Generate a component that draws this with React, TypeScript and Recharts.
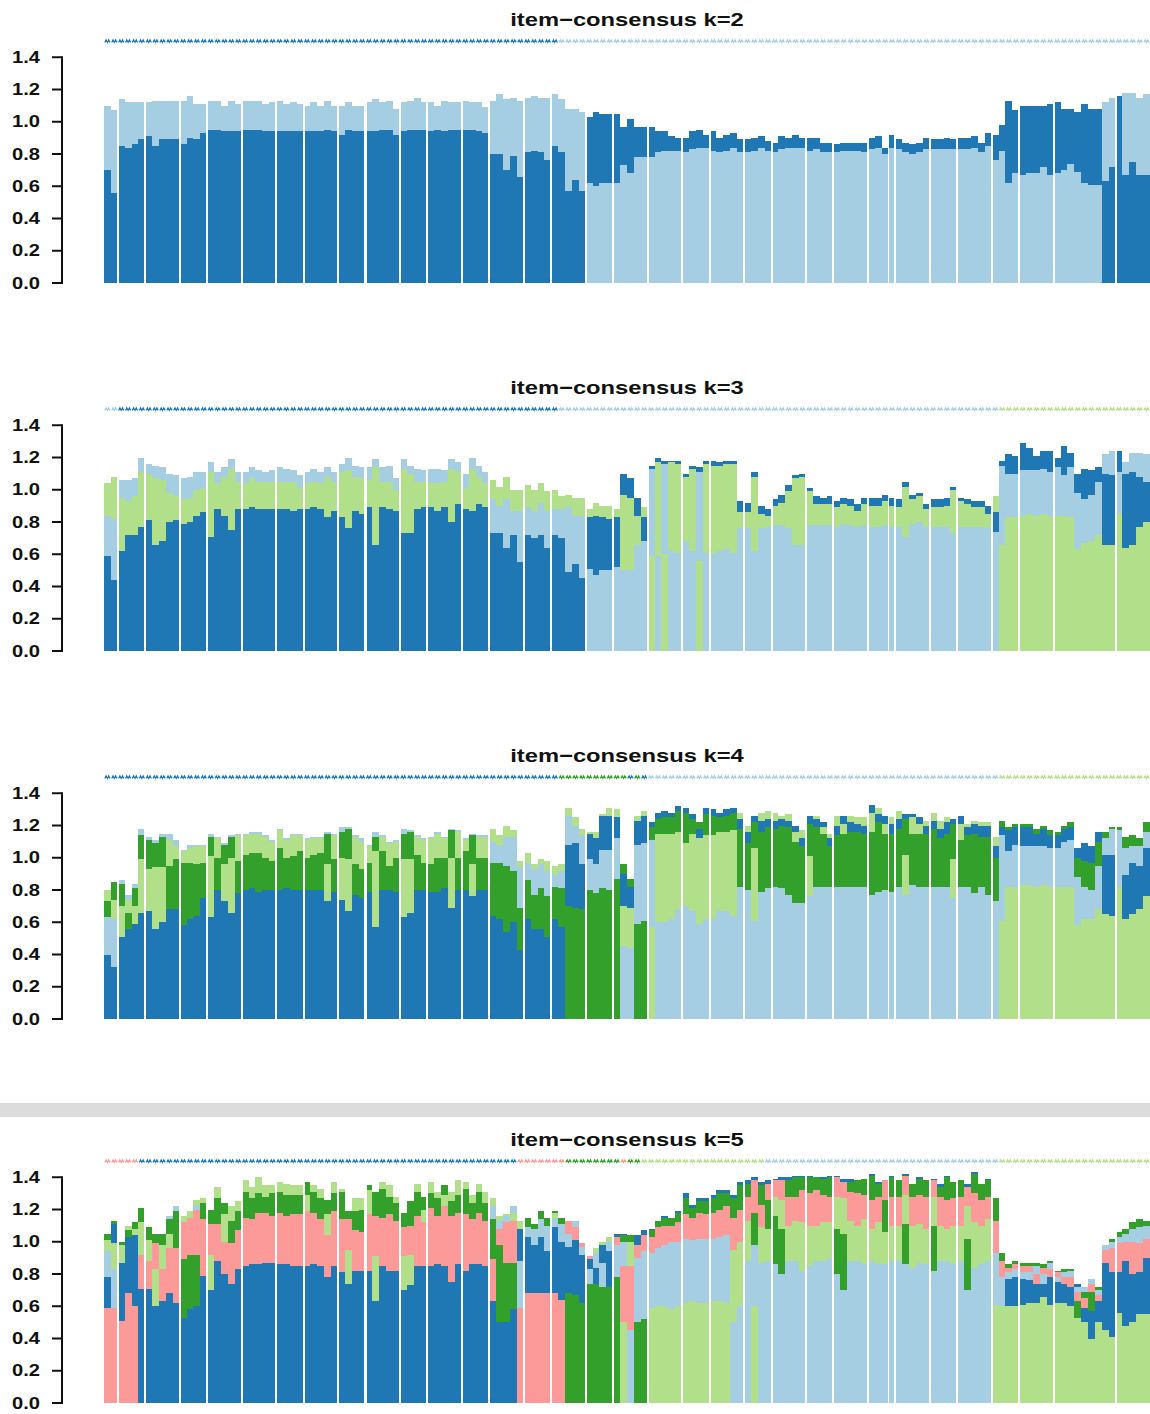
import { Bar, Cell, ComposedChart, Scatter, XAxis, YAxis } from "recharts";

// RColorBrewer "Paired": cluster 1..5 in the order ConsensusClusterPlus assigns them
const PAIRED = ["#1F78B4", "#A6CEE3", "#B2DF8A", "#33A02C", "#FB9A99"];

// runs of samples between the white separators
const BLOCKS = [2, 4, 5, 4, 5, 5, 4, 5, 4, 5, 4, 5, 4, 5, 4, 5, 4, 5, 5, 4, 5, 4, 5, 4, 5, 4, 5, 4, 5, 4, 5, 9, 5];

// ── k=2 item consensus per cluster ─────────────────────────────────────────
const K2_C1 = [
  .70, .56, .85, .84, .86, .89, .91, .85, .89, .89,
  .89, .86, .90, .89, .93, .95, .95, .94, .94, .94,
  .95, .95, .95, .94, .94, .94, .94, .94, .94, .94,
  .94, .94, .95, .94, .92, .95, .94, .94, .94, .94,
  .95, .95, .92, .94, .95, .95, .95, .94, .95, .94,
  .95, .95, .95, .95, .94, .93, .80, .80, .70, .79,
  .66, .81, .82, .81, .76, .85, .81, .57, .64, .57,
  .41, .46, .43, .43, .43, .24, .34, .19, .19, .19,
  .13, .12, .09, .08, .09, .11, .11, .08, .12, .09,
  .10, .09, .08, .08, .08, .07, .06, .06, .08, .06,
  .08, .06, .08, .07, .06, .06, .05, .05, .05, .05,
  .06, .07, .07, .04, .08, .06, .06, .06, .06, .07,
  .06, .06, .07, .06, .07, .07, .07, .06, .08, .16,
  .16, .51, .39, .43, .42, .42, .38, .44, .44, .38,
  .34, .37, .49, .47, .47, .63, .72, 1.16, .67, .75,
  .67, .67,
];
const K2_C2 = [
  .40, .51, .29, .28, .26, .23, .21, .28, .24, .24,
  .24, .27, .26, .22, .18, .18, .18, .16, .19, .17,
  .18, .18, .18, .17, .18, .19, .17, .18, .17, .16,
  .18, .16, .18, .16, .18, .17, .16, .16, .18, .20,
  .17, .18, .16, .18, .18, .20, .17, .18, .15, .19,
  .17, .17, .18, .17, .18, .16, .33, .37, .44, .36,
  .47, .34, .34, .34, .39, .32, .33, .51, .44, .49,
  .62, .60, .62, .62, .62, .73, .68, .78, .78, .78,
  .81, .82, .82, .82, .81, .83, .84, .84, .82, .81,
  .82, .84, .81, .81, .82, .84, .82, .81, .83, .84,
  .84, .84, .82, .83, .81, .81, .81, .82, .82, .82,
  .81, .83, .84, .80, .84, .83, .81, .80, .81, .83,
  .83, .83, .83, .83, .83, .83, .84, .81, .85, .76,
  .82, .62, .68, .67, .68, .68, .72, .67, .68, .70,
  .74, .69, .62, .61, .61, .49, .43, 0, .51, .43,
  .48, .50,
];

// ── k=3 ────────────────────────────────────────────────────────────────────
const K3_C1 = [
  .59, .44, .62, .72, .72, .77, .81, .66, .68, .80,
  .81, .79, .80, .84, .86, .71, .88, .84, .75, .88,
  .88, .89, .88, .88, .88, .88, .88, .87, .88, .88,
  .89, .88, .83, .87, .83, .76, .87, .85, .89, .66,
  .89, .88, .87, .73, .73, .88, .89, .89, .87, .89,
  .80, .91, .88, .87, .91, .89, .73, .73, .64, .72,
  .55, .72, .70, .72, .64, .72, .70, .49, .54, .45,
  .32, .37, .33, .32, .31, .13, .12, .11, .15, .02,
  .03, .02, .01, .02, .02, .02, .03, .02, .03, .02,
  .02, .02, .07, .06, .03, .05, .04, .04, .05, .04,
  .02, .02, .02, .05, .04, .05, .04, .04, .04, .04,
  .04, .05, .05, .04, .05, .05, .03, .03, .02, .03,
  .05, .05, .05, .02, .02, .03, .04, .04, .05, .12,
  .03, .12, .11, .17, .14, .09, .11, .13, .06, .18,
  .09, .12, .19, .15, .09, .44, .43, .13, .46, .45,
  .31, .25,
];
const K3_C2 = [
  .25, .38, .11, .13, .11, .09, .06, .08, .08, .12,
  .13, .13, .13, .11, .10, .06, .07, .06, .06, .06,
  .07, .07, .07, .06, .07, .09, .08, .07, .08, .07,
  .08, .07, .06, .06, .05, .08, .07, .07, .08, .05,
  .09, .10, .07, .06, .05, .08, .07, .09, .09, .07,
  .06, .06, .09, .07, .07, .07, .21, .17, .30, .15,
  .32, .17, .17, .20, .23, .16, .18, .40, .30, .39,
  .51, .47, .50, .50, .52, .50, .50, .66, .68, .54,
  .59, .56, .62, .61, .68, .62, .55, .61, .60, .62,
  .63, .61, .76, .76, .62, .76, .77, .78, .78, .76,
  .66, .66, .78, .78, .78, .78, .77, .79, .78, .77,
  .78, .77, .77, .78, .77, .77, .71, .79, .80, .77,
  .77, .77, .77, .73, .77, .77, .77, .77, .76, .74,
  .49, .27, .27, .28, .27, .28, .28, .27, .30, .25,
  .31, .35, .27, .29, .33, .12, .15, .26, .07, .12,
  .15, .17,
];
const K3_C3 = [
  .20, .26, .33, .21, .24, .34, .29, .41, .38, .18,
  .15, .15, .15, .16, .15, .40, .16, .24, .38, .17,
  .16, .18, .17, .17, .17, .17, .17, .18, .13, .16,
  .16, .16, .25, .18, .28, .36, .21, .22, .17, .48,
  .16, .17, .13, .40, .37, .17, .16, .15, .17, .16,
  .33, .20, .13, .26, .17, .15, .12, .12, .14, .13,
  .13, .14, .13, .12, .12, .12, .08, .08, .11, .11,
  .05, .08, .07, .08, .05, .47, .45, .18, .06, .59,
  .58, .60, .55, .55, .40, .51, .56, .55, .55, .53,
  .53, .55, .10, .10, .46, .09, .07, .12, .14, .23,
  .41, .42, .21, .13, .13, .13, .12, .12, .12, .10,
  .13, .13, .13, .15, .13, .12, .31, .15, .16, .11,
  .12, .12, .13, .27, .16, .14, .12, .12, .09, .10,
  .66, .83, .83, .84, .85, .84, .85, .84, .84, .84,
  .83, .63, .67, .68, .72, .66, .66, .85, .64, .66,
  .77, .80,
];

// ── k=4 ────────────────────────────────────────────────────────────────────
const K4_C1 = [
  .40, .32, .51, .56, .59, .66, .67, .56, .60, .68,
  .68, .58, .62, .64, .75, .63, .80, .73, .66, .78,
  .80, .81, .79, .80, .80, .80, .81, .80, .80, .80,
  .80, .80, .73, .79, .74, .67, .77, .75, .79, .57,
  .80, .80, .79, .63, .66, .80, .80, .79, .79, .81,
  .69, .80, .80, .76, .80, .80, .64, .62, .54, .60,
  .43, .62, .56, .56, .51, .62, .57, .38, .40, .28,
  .16, .16, .21, .21, .13, .20, .13, .15, .17, .03,
  .04, .04, .03, .03, .03, .03, .06, .04, .04, .03,
  .04, .03, .06, .07, .04, .07, .05, .05, .04, .04,
  .04, .05, .05, .05, .03, .05, .06, .05, .06, .05,
  .05, .05, .05, .05, .06, .06, .03, .02, .04, .05,
  .05, .06, .07, .03, .05, .05, .06, .07, .07, .07,
  .05, .13, .11, .12, .12, .08, .11, .08, .08, .08,
  .08, .06, .11, .10, .06, .37, .38, 0, .27, .32,
  .27, .30,
];
const K4_C2 = [
  .23, .30, .02, .03, .03, .04, .02, .02, .02, .04,
  .04, .01, .02, .01, .01, .02, .01, .01, .01, .01,
  .01, .01, .01, .01, .01, .01, .01, .01, .01, .01,
  .01, .01, .01, .01, .03, .01, .01, .02, .01, .03,
  .01, .01, .01, .03, .01, .01, .01, .01, .01, .01,
  .01, .01, .01, .01, .01, .01, .13, .11, .18, .21,
  .25, .11, .16, .15, .16, .07, .11, .18, .11, .18,
  .19, .18, .24, .25, .25, .45, .44, .49, .48, .54,
  .60, .60, .62, .68, .70, .67, .59, .62, .62, .67,
  .67, .64, .82, .80, .61, .79, .81, .82, .81, .77,
  .72, .72, .76, .82, .82, .82, .82, .82, .82, .82,
  .82, .77, .79, .80, .79, .82, .77, .83, .82, .82,
  .82, .82, .82, .75, .82, .82, .78, .82, .77, .73,
  .53, .22, .26, .24, .24, .25, .24, .24, .24, .28,
  .29, .30, .20, .18, .27, .10, .16, .35, .17, .10,
  .12, .10,
];
const K4_C3 = [
  .07, .12, .19, .08, .11, .33, .26, .38, .34, .16,
  .08, .07, .09, .11, .10, .38, .12, .23, .34, .16,
  .12, .12, .12, .13, .12, .11, .11, .13, .10, .11,
  .10, .09, .23, .15, .26, .32, .17, .17, .10, .47,
  .09, .14, .10, .36, .33, .11, .14, .16, .15, .12,
  .31, .16, .07, .20, .13, .13, .08, .06, .07, .04,
  .04, .06, .03, .03, .06, .06, .04, .05, .05, .04,
  .01, .04, .01, .05, .05, .25, .25, .03, .03, .57,
  .55, .55, .53, .48, .39, .48, .53, .52, .52, .49,
  .49, .53, .04, .04, .45, .05, .05, .05, .02, .04,
  .06, .05, .25, .02, .04, .03, .06, .06, .04, .04,
  .05, .12, .04, .06, .04, .05, .25, .10, .06, .03,
  .05, .05, .03, .24, .10, .02, .02, .02, .02, .06,
  .61, .82, .82, .83, .83, .82, .83, .82, .82, .82,
  .82, .58, .62, .62, .68, .65, .64, .82, .62, .65,
  .68, .76,
];
const K4_C4 = [
  .10, .11, .14, .10, .11, .15, .18, .15, .19, .27,
  .31, .39, .35, .32, .22, .12, .20, .12, .13, .20,
  .22, .22, .24, .20, .18, .26, .19, .21, .24, .20,
  .22, .23, .19, .20, .16, .19, .19, .18, .18, .09,
  .24, .15, .21, .16, .17, .22, .17, .17, .21, .19,
  .17, .20, .24, .18, .20, .20, .33, .35, .41, .32,
  .26, .24, .21, .25, .25, .20, .24, .70, .69, .68,
  .80, .78, .81, .80, .87, .06, .05, .59, .61, .08,
  .09, .10, .10, .13, .19, .09, .04, .13, .12, .09,
  .10, .11, .36, .29, .16, .37, .38, .36, .39, .42,
  .38, .35, .20, .37, .33, .25, .32, .33, .34, .34,
  .33, .39, .43, .35, .36, .36, .22, .32, .33, .33,
  .36, .30, .33, .22, .29, .32, .37, .31, .36, .27,
  .04, .02, .02, .02, .02, .03, .02, .03, .02, .02,
  .03, .12, .16, .17, .15, .04, .01, .02, .07, .07,
  .05, .06,
];

// ── k=5 ────────────────────────────────────────────────────────────────────
const K5_C1 = [
  .19, .12, .36, .35, .44, .71, .71, .60, .63, .68,
  .62, .53, .58, .60, .79, .70, .88, .80, .74, .83,
  .85, .86, .86, .87, .87, .86, .86, .85, .85, .85,
  .86, .85, .78, .85, .81, .74, .82, .82, .82, .63,
  .85, .82, .82, .70, .73, .85, .85, .85, .86, .85,
  .75, .86, .82, .86, .86, .85, .63, .50, .50, .58,
  .20, .35, .30, .35, .26, .41, .36, .29, .34, .30,
  .06, .10, .11, .22, .02, .01, 0, .06, .03, .01,
  0, .01, 0, .01, .03, .02, .02, .02, .02, .02,
  .02, .02, .02, .02, .02, .02, .02, .01, .02, .02,
  .01, .01, .01, 0, .01, .01, .01, .02, .02, 0,
  0, .01, .01, 0, .01, 0, .01, 0, .01, 0,
  .01, .02, .01, 0, 0, .02, .01, 0, .01, 0,
  0, .17, .18, .16, .14, .12, .08, .17, .13, .12,
  .12, .02, .09, .17, .13, .42, .40, .25, .40, .30,
  .26, .35,
];
const K5_C2 = [
  .16, .24, 0, 0, 0, 0, 0, 0, 0, .02,
  .03, 0, 0, .03, 0, 0, 0, 0, 0, 0,
  0, 0, 0, 0, 0, 0, 0, 0, 0, 0,
  0, 0, 0, 0, 0, 0, 0, 0, 0, 0,
  0, 0, 0, 0, 0, 0, 0, 0, 0, 0,
  0, 0, 0, 0, 0, 0, .08, .05, .04, .04,
  .29, .06, .10, .11, .16, .06, .11, .08, .04, .05,
  .09, .09, .15, .06, .20, .15, .45, .40, .42, .34,
  .36, .38, .42, .40, .40, .38, .40, .40, .39, .40,
  .42, .50, .60, .88, .38, .87, .88, .86, .80, .88,
  .88, .82, .85, .88, .88, .90, .80, .70, .88, .88,
  .86, .88, .86, .86, .88, .88, .86, .84, .87, .86,
  .82, .88, .88, .86, .88, .70, .84, .86, .88, .32,
  .18, .04, .05, .04, .05, .05, .06, .04, .03, .03,
  .04, .03, .03, .03, .03, .03, .04, .04, .05, .08,
  .10, .08,
];
const K5_C3 = [
  .07, .16, .11, .03, .04, .20, .13, .23, .15, .09,
  0, .04, .04, .03, .03, .22, .07, .17, .09, .06,
  .07, .07, .10, .07, .05, .06, .07, .06, .06, .10,
  .04, .06, .13, .07, .02, .21, .08, .07, .15, .28,
  .04, .07, .04, .21, .19, .05, .08, .07, .04, .07,
  .06, .09, .04, .05, .05, .07, .05, .03, .01, .05,
  .05, 0, 0, 0, 0, .03, 0, 0, 0, 0,
  0, .03, .02, .03, 0, .50, .15, 0, 0, .59,
  .60, .60, .58, .60, .62, .63, .62, .62, .63, .63,
  .62, .45, .40, .25, .60, .22, .20, .12, .18, .22,
  .25, .30, .25, .22, .24, .22, .20, .22, .25, .22,
  .28, .20, .26, .20, .22, .22, .18, .26, .24, .22,
  .18, .22, .20, .24, .22, .20, .28, .24, .26, .61,
  .60, .60, .60, .61, .62, .62, .66, .61, .62, .62,
  .60, .53, .50, .40, .50, .45, .41, .56, .48, .50,
  .55, .55,
];
const K5_C4 = [
  .04, .02, .02, .04, .04, .09, .08, .06, .07, .09,
  .23, .36, .34, .32, .10, .09, .16, .07, .14, .12,
  .16, .13, .12, .10, .14, .13, .13, .12, .12, .08,
  .13, .13, .09, .11, .17, .05, .12, .14, .03, .15,
  .18, .11, .11, .09, .15, .15, .08, .09, .11, .06,
  .09, .11, .16, .10, .13, .11, .25, .48, .37, .29,
  0, .06, .03, .05, .05, .01, .04, .68, .67, .62,
  .74, .74, .72, .72, .78, .04, .04, .50, .52, .04,
  .04, .05, .05, .06, .10, .06, .07, .08, .09, .10,
  .08, .12, .15, .08, .20, .12, .18, .30, .28, .10,
  .12, .08, .10, .08, .10, .12, .28, .35, .06, .08,
  .10, .15, .08, .20, .12, .10, .25, .08, .10, .10,
  .28, .06, .14, .10, .10, .32, .12, .10, .10, .14,
  .05, .02, .02, .02, .02, .02, .02, .01, .01, .02,
  .01, .10, .04, .12, .02, 0, .02, .03, .03, .04,
  .05, .03,
];
const K5_C5 = [
  .59, .59, .51, .68, .60, .21, .17, .16, .20, .28,
  .34, .23, .23, .28, .35, .19, .23, .20, .25, .24,
  .30, .28, .32, .31, .29, .32, .30, .32, .32, .34,
  .32, .29, .26, .34, .33, .19, .25, .24, .35, .25,
  .30, .35, .31, .18, .18, .31, .27, .36, .30, .37,
  .41, .32, .35, .28, .32, .28, .26, .10, .25, .26,
  .59, .68, .68, .68, .68, .68, .64, .08, .08, .02,
  .02, 0, 0, 0, .05, .35, .40, .08, .10, .10,
  .13, .12, .10, .12, .15, .14, .16, .15, .16, .17,
  .18, .20, .20, .15, .20, .14, .10, .10, .12, .18,
  .15, .20, .20, .22, .17, .16, .12, .10, .18, .20,
  .15, .18, .16, .12, .18, .18, .12, .18, .18, .20,
  .10, .18, .18, .17, .18, .12, .18, .16, .14, .20,
  .10, .03, .03, .04, .04, .06, .04, .05, .03, .04,
  .06, .06, .06, .05, .04, .08, .15, .18, .12, .20,
  .18, .12,
];

// cluster membership of each sample, as [cluster, run length]
const K2_STRIP = [[0, 66], [1, 86]];
const K3_STRIP = [[1, 2], [0, 64], [1, 64], [2, 22]];
const K4_STRIP = [[0, 66], [3, 10], [0, 1], [3, 1], [0, 1], [1, 51], [2, 22]];
const K5_STRIP = [[4, 5], [0, 55], [4, 7], [3, 8], [4, 1], [3, 2], [2, 18], [1, 34], [2, 22]];

const Y_MAX = 1.6;
const Y_TICKS = [0, 0.2, 0.4, 0.6, 0.8, 1.0, 1.2, 1.4];
const STRIP_Y = 1.5; // class marks sit at maxH, like the R plot

const CHART_W = 1150;
const AXIS_W = 104; // y-axis band, bars start at its right edge
const AXIS_GAP = 42; // axis line sits this far left of the first bar
const PLOT_H = 258;
const M_TOP = 4;
const M_BOTTOM = 12; // room for the "0.0" label below the baseline
const N = K2_C1.length;
const BAND = (CHART_W - AXIS_W) / N;
const FONT = "'Liberation Sans', Arial, Helvetica, sans-serif";

const PANELS = [
  { title: "item−consensus k=2", base: 283, series: [K2_C1, K2_C2], strip: K2_STRIP },
  { title: "item−consensus k=3", base: 651, series: [K3_C1, K3_C2, K3_C3], strip: K3_STRIP },
  { title: "item−consensus k=4", base: 1019, series: [K4_C1, K4_C2, K4_C3, K4_C4], strip: K4_STRIP },
  { title: "item−consensus k=5", base: 1403, series: [K5_C1, K5_C2, K5_C3, K5_C4, K5_C5], strip: K5_STRIP },
];

function expandRuns(runs: number[][]): number[] {
  const out: number[] = [];
  runs.forEach(([c, n]) => {
    for (let i = 0; i < n; i++) out.push(c);
  });
  return out;
}

// last sample of every block (except the final one) gets a separator after it
const blockEnds = new Set<number>();
{
  let acc = 0;
  BLOCKS.forEach((b, j) => {
    acc += b;
    if (j < BLOCKS.length - 1) blockEnds.add(acc - 1);
  });
}

// rankedBarPlot: largest consensus value at the bottom, smallest on top
function buildRows(series: number[][], stripRuns: number[][]) {
  const strip = expandRuns(stripRuns);
  return Array.from({ length: N }, (_, i) => {
    const vals = series.map((s) => s[i] ?? 0);
    const order = vals.map((_, c) => c).sort((a, b) => vals[b] - vals[a]);
    const row: Record<string, number | boolean> = {
      idx: i,
      stripY: STRIP_Y,
      cls: strip[i] ?? 0,
      gapBefore: blockEnds.has(i - 1),
      gapAfter: blockEnds.has(i),
    };
    order.forEach((c, r) => {
      row[`r${r}`] = vals[c];
      row[`c${r}`] = c;
    });
    return row;
  });
}

function Segment(props: any) {
  const { x, y, width, height, fill, payload } = props;
  if (!(height > 0) || !(width > 0)) return <g />;
  let x0 = x;
  let w = width;
  if (payload?.gapBefore) {
    x0 += 1;
    w -= 1;
  }
  if (payload?.gapAfter) w -= 1;
  return <rect x={x0} y={y} width={w} height={height} fill={fill} shapeRendering="crispEdges" />;
}

function StripMark(props: any) {
  const { cx, cy, payload } = props;
  if (cx == null || cy == null) return <g />;
  const pts = [[-2.6, 1.3], [-1.3, -1.3], [0, 1.3], [1.3, -1.3], [2.6, 1.3]]
    .map(([dx, dy]) => `${cx + dx},${cy + dy}`)
    .join(" ");
  return <polyline points={pts} fill="none" stroke={PAIRED[payload.cls]} strokeWidth={1.2} />;
}

function YTick(props: any) {
  const { x, y, payload } = props;
  const ax = x - AXIS_GAP;
  const step = (PLOT_H * 0.2) / Y_MAX;
  const v = payload.value as number;
  return (
    <g>
      <line x1={ax - 10} x2={ax} y1={y} y2={y} stroke="#111" strokeWidth={2} />
      {v < 1.39 && <line x1={ax} x2={ax} y1={y + 1} y2={y - step - 1} stroke="#111" strokeWidth={2} />}
      <text
        transform={`translate(${ax - 22},${y + 5.5}) scale(1.26,1)`}
        textAnchor="end"
        fontFamily={FONT}
        fontWeight="bold"
        fontSize={16}
        fill="#111"
      >
        {v.toFixed(1)}
      </text>
    </g>
  );
}

function Panel({ series, strip, base }: { series: number[][]; strip: number[][]; base: number }) {
  const rows = buildRows(series, strip);
  const k = series.length;
  return (
    <div style={{ position: "absolute", left: 0, top: base - PLOT_H - M_TOP }}>
      <ComposedChart
        width={CHART_W}
        height={PLOT_H + M_TOP + M_BOTTOM}
        data={rows}
        margin={{ top: M_TOP, right: 0, bottom: M_BOTTOM, left: 0 }}
        barCategoryGap={0}
        barGap={0}
      >
        <XAxis dataKey="idx" type="category" hide />
        <YAxis
          type="number"
          domain={[0, Y_MAX]}
          ticks={Y_TICKS}
          interval={0}
          width={AXIS_W}
          axisLine={false}
          tickLine={false}
          tickSize={0}
          tickMargin={0}
          tick={(p: any) => <YTick {...p} />}
        />
        {Array.from({ length: k }, (_, r) => (
          <Bar
            key={r}
            dataKey={`r${r}`}
            stackId="rank"
            barSize={BAND - 0.002}
            isAnimationActive={false}
            shape={(p: any) => <Segment {...p} />}
          >
            {rows.map((row, i) => (
              <Cell key={i} fill={PAIRED[row[`c${r}`] as number]} />
            ))}
          </Bar>
        ))}
        <Scatter dataKey="stripY" shape={(p: any) => <StripMark {...p} />} isAnimationActive={false} />
      </ComposedChart>
    </div>
  );
}

export default function App() {
  return (
    <div
      style={{
        position: "absolute",
        left: 0,
        top: 0,
        width: 1150,
        height: 1414,
        overflow: "hidden",
        background: "#fff",
      }}
    >
      {PANELS.map((p) => (
        <Panel key={p.title} series={p.series} strip={p.strip} base={p.base} />
      ))}
      <svg width={1150} height={1414} style={{ position: "absolute", left: 0, top: 0, pointerEvents: "none" }}>
        <rect x={0} y={1103} width={1150} height={14} fill="#dcdcdc" />
        {PANELS.map((p) => (
          <text
            key={p.title}
            transform={`translate(627,${p.base - 257}) scale(1.25,1)`}
            textAnchor="middle"
            fontFamily={FONT}
            fontWeight="bold"
            fontSize={19}
            fill="#111"
          >
            {p.title}
          </text>
        ))}
      </svg>
    </div>
  );
}
